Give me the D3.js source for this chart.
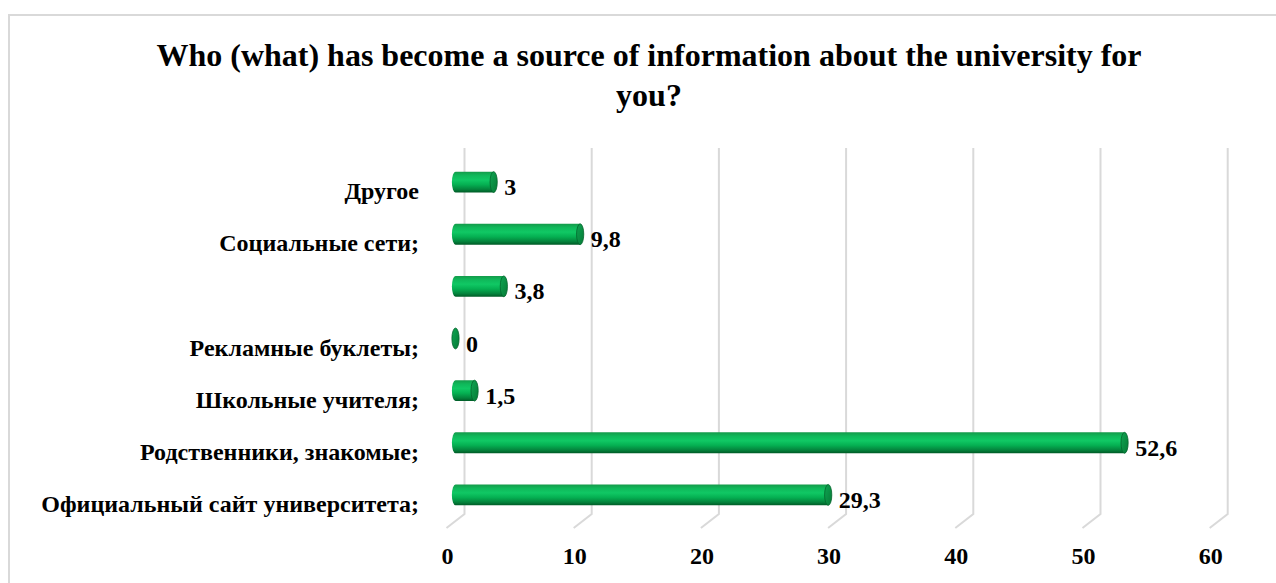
<!DOCTYPE html>
<html>
<head>
<meta charset="utf-8">
<script src="https://cdn.jsdelivr.net/npm/d3@7"></script>
<style>
  html, body { margin: 0; padding: 0; background: #fff; }
  svg { display: block; }
</style>
</head>
<body>
<svg id="chart" width="1276" height="583"></svg>
<script>
// Survey answers, listed top to bottom as they appear in the chart
const categories = [
  "Другое",
  "Социальные сети;",
  "",
  "Рекламные буклеты;",
  "Школьные учителя;",
  "Родственники, знакомые;",
  "Официальный сайт университета;"
];
const values = [3, 9.8, 3.8, 0, 1.5, 52.6, 29.3];
const valueLabels = ["3", "9,8", "3,8", "0", "1,5", "52,6", "29,3"];
const tickValues = [0, 10, 20, 30, 40, 50, 60];
const titleLines = [
  "Who (what) has become a source of information about the university for",
  "you?"
];

const FONT = "Liberation Serif";
const svg = d3.select("#chart");

// shared text styling
function styleText(sel, size) {
  return sel.attr("font-family", FONT)
    .attr("font-weight", "bold")
    .attr("font-size", size)
    .attr("fill", "#000");
}

// outer chart frame
svg.append("rect")
  .attr("x", 9).attr("y", 15)
  .attr("width", 1300).attr("height", 600)
  .attr("fill", "#fff")
  .attr("stroke", "#d9d9d9").attr("stroke-width", 2);

// title
styleText(svg.append("g").selectAll("text")
  .data(titleLines)
  .join("text")
  .attr("x", 649)
  .attr("y", (d, i) => 55 + i * 40)
  .attr("text-anchor", "middle")
  .attr("dominant-baseline", "central")
  .text(d => d), 32);

// 3D depth shift between back wall, bar plane and front floor edge
const depth = { dx: 9 };
const x = d3.scaleLinear().domain([0, 60]).range([455.5, 455.5 + 12.72 * 60]);
const y = d3.scaleBand().domain(d3.range(categories.length)).range([156, 521])
  .paddingInner(0.6).paddingOuter(0.3);

const backX = v => x(v) + depth.dx;
const frontX = v => x(v) - depth.dx;
const wallTop = 148, floorBack = 514, floorFront = 528;

// gridlines on the back wall with their slant across the floor
const grid = svg.append("g").attr("fill", "none").attr("stroke", "#d9d9d9").attr("stroke-width", 2);
grid.selectAll("path")
  .data(tickValues)
  .join("path")
  .attr("d", v => `M${backX(v)},${wallTop}L${backX(v)},${floorBack}L${frontX(v)},${floorFront}`);

// value axis labels
styleText(svg.append("g").selectAll("text")
  .data(tickValues)
  .join("text")
  .attr("x", v => frontX(v) + 1)
  .attr("y", 556)
  .attr("text-anchor", "middle")
  .attr("dominant-baseline", "central")
  .text(v => v), 24);

// cylinder shading
const defs = svg.append("defs");
const grad = defs.append("linearGradient").attr("id", "cyl").attr("x1", 0).attr("y1", 0).attr("x2", 0).attr("y2", 1);
[[0, "#149a4a"], [0.18, "#0fb85a"], [0.4, "#10c864"], [0.62, "#05b052"], [0.85, "#04833c"], [1, "#005a26"]]
  .forEach(([o, c]) => grad.append("stop").attr("offset", o).attr("stop-color", c));
const capGrad = defs.append("linearGradient").attr("id", "cap").attr("x1", 0).attr("y1", 0).attr("x2", 1).attr("y2", 1);
[[0, "#0fa552"], [1, "#067a36"]]
  .forEach(([o, c]) => capGrad.append("stop").attr("offset", o).attr("stop-color", c));

const rx = 3.6;
const bars = svg.append("g").selectAll("g")
  .data(values.map((v, i) => ({ v, i })))
  .join("g");

// body: elliptical left end joined to the right end
bars.filter(d => d.v > 0).append("path")
  .attr("fill", "url(#cyl)")
  .attr("d", d => {
    const x0 = x(0), x1 = x(d.v);
    const ry = y.bandwidth() / 2, cy = y(d.i) + ry;
    return `M${x1},${cy - ry}L${x0},${cy - ry}A${rx},${ry} 0 0 0 ${x0},${cy + ry}L${x1},${cy + ry}Z`;
  });

// right end cap
bars.append("ellipse")
  .attr("cx", d => x(d.v))
  .attr("cy", d => y(d.i) + y.bandwidth() / 2)
  .attr("rx", rx)
  .attr("ry", y.bandwidth() / 2)
  .attr("fill", "url(#cap)")
  .attr("stroke", "#04652c")
  .attr("stroke-width", 0.8);

// value labels
styleText(svg.append("g").selectAll("text")
  .data(values.map((v, i) => ({ v, i })))
  .join("text")
  .attr("x", d => x(d.v) + rx + 7)
  .attr("y", d => y(d.i) + y.bandwidth() / 2 + 5)
  .attr("dominant-baseline", "central")
  .text(d => valueLabels[d.i]), 24);

// category labels
styleText(svg.append("g").selectAll("text")
  .data(categories.map((c, i) => ({ c, i })))
  .join("text")
  .attr("x", 419)
  .attr("y", d => y(d.i) + y.bandwidth() / 2 + 9)
  .attr("text-anchor", "end")
  .attr("dominant-baseline", "central")
  .text(d => d.c), 24);
</script>
</body>
</html>
